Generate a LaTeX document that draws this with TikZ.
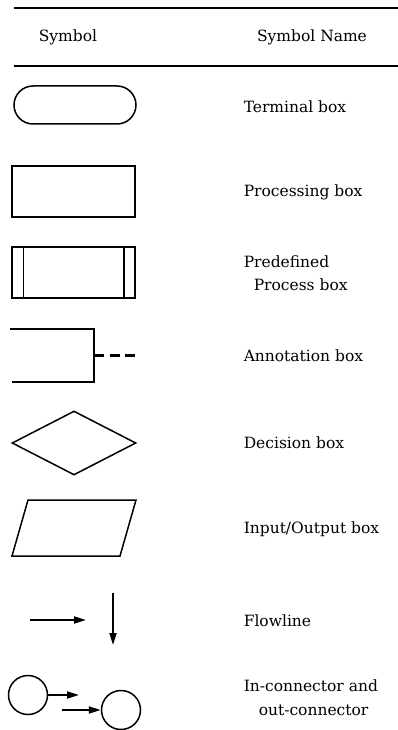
\documentclass[tikz,border=0pt]{standalone}
\usepackage{fontspec}
\setmainfont{DejaVu Serif}
\usetikzlibrary{shapes.geometric,arrows.meta}

\begin{document}
\begin{tikzpicture}[
            x=1pt, y=-1pt,
            line width=1.5pt,
            head/.style={font=\fontsize{15.5}{19}\selectfont, inner sep=0pt},
            label/.style={anchor=west, font=\fontsize{15.5}{19}\selectfont, inner sep=0pt},
            symbox/.style={draw, rectangle, minimum width=123pt,
                           minimum height=51pt, inner sep=0pt},
            flow/.style={-{Triangle[length=12pt,width=7pt]}, line width=1.9pt}
        ]
            \useasboundingbox (0,0) rectangle (398,730);

            % table head
            \draw[line width=1.2pt] (14,8) -- (398,8);
            \node[head] (symcol) at (68,37) {Symbol};
            \node[head] (namecol) at (312,37) {Symbol Name};
            \draw[line width=1.2pt] (14,66) -- (398,66);

            % terminal
            \node[symbox, rounded corners=19pt, minimum width=122pt,
                  minimum height=38pt] (terminal) at (75,105) {};
            \node[label] (terminaltxt) at (243,107) {Terminal box};

            % processing
            \node[symbox] (process) at (73.5,191.5) {};
            \node[label] (processtxt) at (243,192) {Processing box};

            % predefined process
            \node[symbox] (predef) at (73.5,272.5) {};
            \draw ([xshift=12pt]predef.north west) -- ([xshift=12pt]predef.south west);
            \draw ([xshift=-12pt]predef.north east) -- ([xshift=-12pt]predef.south east);
            \node[label] (predeftxt) at (243,262) {Predefined};
            \node[label] (predeftxtb) at (253,285) {Process box};

            % annotation
            \draw (10,329) -- (94,329) -- (94,382) -- (12,382);
            \draw[line width=2.3pt, dash pattern=on 10pt off 5.5pt] (94,355.5) -- (135,355.5);
            \node[label] (annotxt) at (243,356) {Annotation box};

            % decision
            \node[draw, diamond, minimum width=124pt, minimum height=64pt,
                  inner sep=0pt] (decision) at (74,443) {};
            \node[label] (decisiontxt) at (243,443) {Decision box};

            % input/output
            \draw (28,500) -- (136,500) -- (120,556) -- (12,556) -- cycle;
            \node[label] (iotxt) at (243,529) {Input/Output box};

            % flowlines
            \coordinate (flowa) at (30,620);
            \coordinate (flowb) at (86,620);
            \coordinate (flowc) at (113,593);
            \coordinate (flowd) at (113,645);
            \draw[flow] (flowa) -- (flowb);
            \draw[flow] (flowc) -- (flowd);
            \node[label] (flowtxt) at (243,621) {Flowline};

            % connectors
            \node[draw, circle, minimum size=39pt, inner sep=0pt] (inconn) at (28,695) {};
            \node[draw, circle, minimum size=39pt, inner sep=0pt] (outconn) at (121,710) {};
            \coordinate (inend) at (79,695);
            \coordinate (outstart) at (62,710);
            \draw[flow] (inconn) -- (inend);
            \draw[flow] (outstart) -- (outconn);
            \node[label] (conntxt) at (243,686) {In-connector and};
            \node[label] (conntxtb) at (258,710) {out-connector};
        \end{tikzpicture}
\end{document}
